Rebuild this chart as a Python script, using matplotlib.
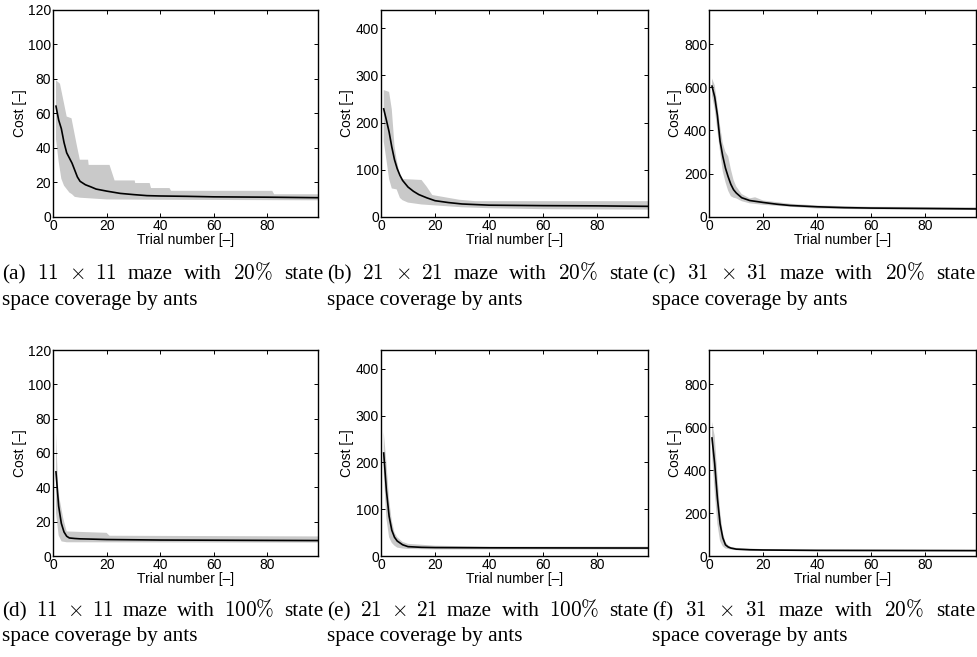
import matplotlib
matplotlib.use("Agg")
import matplotlib.pyplot as plt
import numpy as np

plt.rcParams['font.family'] = ['Liberation Sans', 'DejaVu Sans']
plt.rcParams['mathtext.fontset'] = 'cm'

W, H = 977, 657

## Данные: средняя стоимость и разброс (мин/макс) по номеру попытки
# (a) 11x11, 20%
a_mean_x = [1, 2, 3, 4, 5, 6, 7, 8, 9, 10, 12, 14, 16, 20, 25, 30, 35, 40, 50, 60, 80, 99]
a_mean_y = [64, 56, 51, 43, 37, 34, 31, 27, 23, 20.5, 18.5, 17.3, 16, 14.8, 13.5, 12.8, 12.2, 12, 11.8, 11.5, 11.3, 11]
a_hi_x = [1, 2.5, 5, 6.8, 8.7, 9.9, 13, 13.2, 21, 22.9, 30.4, 30.6, 36, 36.5, 43.4, 44, 81.8, 82.5, 99]
a_hi_y = [79, 77, 58, 57, 42, 33, 33, 30, 30, 21, 21, 19.5, 19.5, 16.6, 16.6, 15, 15, 13, 13]
a_lo_x = [1, 2, 3, 4, 5, 6, 7, 8, 10, 15, 20, 40, 99]
a_lo_y = [45, 32, 22, 18, 16, 14, 13, 11.5, 11, 10.5, 10, 9.8, 9.5]

# (b) 21x21, 20%
b_mean_x = [1, 2, 3, 4, 5, 6, 7, 8, 10, 12, 14, 17, 20, 25, 30, 40, 60, 80, 99]
b_mean_y = [229, 205, 180, 148, 121, 102, 88, 77, 63, 54, 47, 40, 34, 30, 27, 24.5, 23.5, 23, 22]
b_hi_x = [1, 3, 4, 5, 5.8, 7, 8, 15, 16.9, 19, 29, 35, 99]
b_hi_y = [269, 265, 228, 150, 121, 88, 80, 78, 64, 46, 36, 33, 33]
b_lo_x = [1, 2, 3, 4, 5.8, 7, 8, 10, 15, 20, 30, 40, 60, 99]
b_lo_y = [160, 121, 80, 60, 58, 40, 35, 30, 26, 24, 20, 18, 16, 15]

# (c) 31x31, 20%
c_mean_x = [1, 2, 3, 4, 5, 6, 7, 8, 9, 10, 12, 15, 20, 25, 30, 40, 50, 60, 80, 99]
c_mean_y = [605, 555, 470, 350, 280, 225, 185, 150, 125, 110, 88, 75, 66, 58, 52, 46, 42, 40, 38, 36]
c_hi_x = [1, 2, 3, 4, 5, 6, 7, 8, 9, 10, 12, 15, 17, 20, 30, 40, 60, 99]
c_hi_y = [640, 610, 520, 420, 340, 300, 280, 220, 170, 140, 105, 85, 90, 75, 60, 52, 46, 44]
c_lo_x = [1, 2, 3, 4, 5, 6, 7, 8, 9, 10, 12, 15, 20, 30, 40, 60, 99]
c_lo_y = [560, 500, 400, 300, 210, 160, 120, 95, 88, 85, 72, 62, 55, 46, 38, 34, 32]

# (d) 11x11, 100%
d_mean_x = [1, 2, 3, 4, 5, 6, 8, 10, 20, 40, 99]
d_mean_y = [49, 29, 19, 14, 11.5, 10.5, 10.2, 10, 9.6, 9.3, 9]
d_hi_x = [1, 1.9, 3.7, 5, 19.9, 21, 99]
d_hi_y = [72, 37, 22, 14.3, 13.5, 11.8, 11.4]
d_lo_x = [1, 2, 3.1, 5, 99]
d_lo_y = [25, 12, 8.5, 8, 7.8]

# (e) 21x21, 100%
e_mean_x = [1, 2, 3, 4, 5, 6, 8, 10, 15, 20, 40, 99]
e_mean_y = [220, 140, 85, 55, 40, 32, 24, 20, 18.5, 18, 17.5, 17]
e_hi_x = [1, 2, 3, 4, 5, 6, 8, 10, 15, 20, 40, 99]
e_hi_y = [265, 200, 120, 75, 50, 40, 30, 26, 24, 22, 20, 20]
e_lo_x = [1, 2, 3, 4, 5, 6, 8, 10, 20, 99]
e_lo_y = [180, 80, 40, 28, 22, 18, 16, 15, 14, 14]

# (f) 31x31, 20%
f_mean_x = [1, 2, 3, 4, 5, 6, 7, 8, 10, 15, 20, 40, 99]
f_mean_y = [550, 430, 270, 150, 85, 52, 42, 37, 32, 29, 28, 26, 25]
f_hi_x = [1, 2, 3, 4, 5, 6, 7, 8, 10, 20, 99]
f_hi_y = [625, 560, 380, 210, 110, 65, 50, 42, 38, 32, 29]
f_lo_x = [1, 2, 3, 4, 5, 6, 8, 10, 20, 99]
f_lo_y = [470, 300, 150, 70, 45, 35, 30, 27, 24, 22]

panels = [
    (a_mean_x, a_mean_y, a_hi_x, a_hi_y, a_lo_x, a_lo_y),
    (b_mean_x, b_mean_y, b_hi_x, b_hi_y, b_lo_x, b_lo_y),
    (c_mean_x, c_mean_y, c_hi_x, c_hi_y, c_lo_x, c_lo_y),
    (d_mean_x, d_mean_y, d_hi_x, d_hi_y, d_lo_x, d_lo_y),
    (e_mean_x, e_mean_y, e_hi_x, e_hi_y, e_lo_x, e_lo_y),
    (f_mean_x, f_mean_y, f_hi_x, f_hi_y, f_lo_x, f_lo_y),
]
ylims = [120, 440, 960, 120, 440, 960]
ysteps = [20, 100, 200, 20, 100, 200]

labels = ["(a)", "(b)", "(c)", "(d)", "(e)", "(f)"]
sizes = ["11", "21", "31", "11", "21", "31"]
coverage = ["20", "20", "20", "100", "100", "20"]

## Расположение осей в пикселях
col_lr = [(53.3, 318.3), (381, 648.3), (709.3, 976)]
row_tb = [(9.5, 216.7), (350, 556)]
cap_x = [(2, 323), (327, 648), (652, 975)]
cap_base = [(279, 304.5), (616, 641.5)]

fig = plt.figure(figsize=(W / 100, H / 100), dpi=100)

for i, (mx, my, hx, hy, lx, ly) in enumerate(panels):
    r, c = divmod(i, 3)
    l, rr = col_lr[c]
    t, b = row_tb[r]
    ax = fig.add_axes([l / W, 1 - b / H, (rr - l) / W, (b - t) / H])
    # серая полоса разброса
    ax.fill(np.r_[hx, lx[::-1]], np.r_[hy, ly[::-1]], color='#c9c9c9', lw=0)
    ax.plot(mx, my, color='black', lw=1.2)
    ax.set_xlim(0, 99)
    ax.set_ylim(0, ylims[i])
    ax.set_xticks([0, 20, 40, 60, 80])
    yt = np.arange(0, ylims[i] + 1, ysteps[i])
    ax.set_yticks(yt[yt <= ylims[i]])
    ax.tick_params(direction='in', length=3, width=0.7, top=True, right=True,
                   labelsize=10, pad=1.5)
    for s in ax.spines.values():
        s.set_linewidth(1.0)
    ax.set_xlabel("Trial number [–]", fontsize=10, labelpad=0)
    ax.set_ylabel("Cost [–]", fontsize=10, labelpad=1)

    # подпись под графиком, выровненная по ширине
    x0, x1 = cap_x[c]
    y1, y2 = cap_base[r]
    words = [labels[i], "$" + sizes[i] + "$", r"$\times$", "$" + sizes[i] + "$",
             "maze", "with", "$" + coverage[i] + r"\%$", "state"]
    txts = [fig.text(0, 1 - y1 / H, w, fontsize=15.3, family='Liberation Serif',
                     va='baseline', ha='left') for w in words]
    fig.text(x0 / W, 1 - y2 / H, "space coverage by ants", fontsize=15.3,
             family='Liberation Serif', va='baseline', ha='left')
    fig.canvas.draw()
    rend = fig.canvas.get_renderer()
    widths = [tx.get_window_extent(rend).width for tx in txts]
    gap = (x1 - x0 - sum(widths)) / (len(words) - 1)
    x = x0
    for tx, w in zip(txts, widths):
        tx.set_x(x / W)
        x += w + gap

fig.savefig("out.png", dpi=100)
